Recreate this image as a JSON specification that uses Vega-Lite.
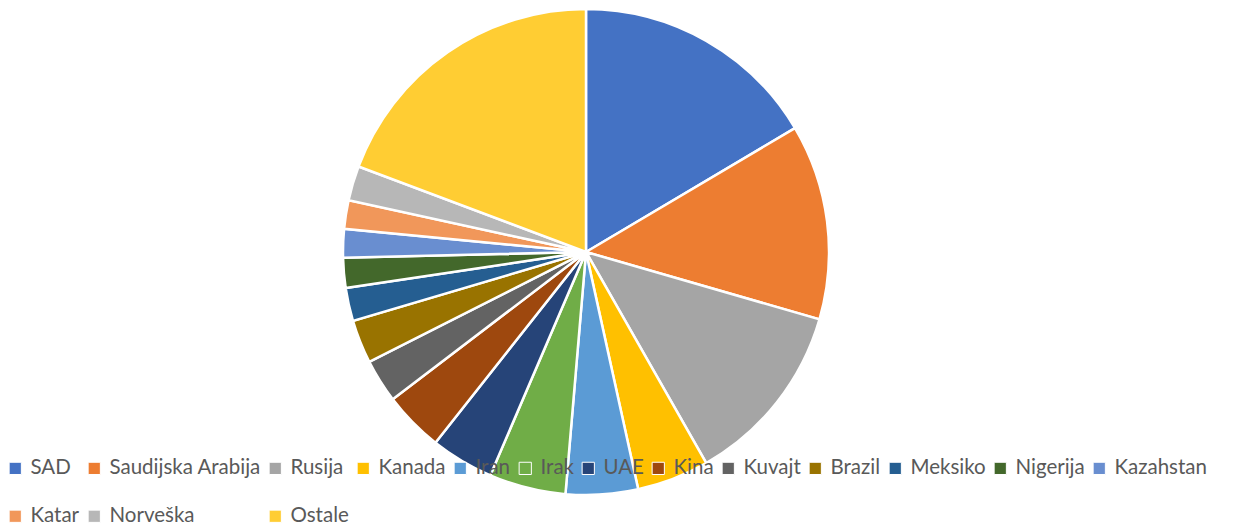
{
  "$schema": "https://vega.github.io/schema/vega-lite/v6.json",
  "autosize": "none",
  "width": 1172,
  "height": 504,
  "padding": {"left": 0, "top": 0, "right": 69, "bottom": 23},
  "background": "white",
  "config": {"view": {"stroke": null}},
  "data": {"values": [
    {"zemlja": "SAD", "udio": 16.5, "red": 1},
    {"zemlja": "Saudijska Arabija", "udio": 13.0, "red": 2},
    {"zemlja": "Rusija", "udio": 12.3, "red": 3},
    {"zemlja": "Kanada", "udio": 4.8, "red": 4},
    {"zemlja": "Iran", "udio": 4.8, "red": 5},
    {"zemlja": "Irak", "udio": 5.1, "red": 6},
    {"zemlja": "UAE", "udio": 4.2, "red": 7},
    {"zemlja": "Kina", "udio": 4.0, "red": 8},
    {"zemlja": "Kuvajt", "udio": 2.9, "red": 9},
    {"zemlja": "Brazil", "udio": 2.9, "red": 10},
    {"zemlja": "Meksiko", "udio": 2.2, "red": 11},
    {"zemlja": "Nigerija", "udio": 2.0, "red": 12},
    {"zemlja": "Kazahstan", "udio": 1.9, "red": 13},
    {"zemlja": "Katar", "udio": 1.9, "red": 14},
    {"zemlja": "Norveška", "udio": 2.3, "red": 15},
    {"zemlja": "Ostale", "udio": 19.3, "red": 16}
  ]},
  "mark": {"type": "arc", "outerRadius": 243, "stroke": "white", "strokeWidth": 2.5},
  "encoding": {
    "theta": {"field": "udio", "type": "quantitative", "stack": true},
    "order": {"field": "red", "type": "quantitative"},
    "color": {
      "field": "zemlja", "type": "nominal",
      "sort": ["SAD", "Saudijska Arabija", "Rusija", "Kanada", "Iran", "Irak", "UAE", "Kina", "Kuvajt", "Brazil", "Meksiko", "Nigerija", "Kazahstan", "Katar", "Norveška", "Ostale"],
      "scale": {
        "domain": ["SAD", "Saudijska Arabija", "Rusija", "Kanada", "Iran", "Irak", "UAE", "Kina", "Kuvajt", "Brazil", "Meksiko", "Nigerija", "Kazahstan", "Katar", "Norveška", "Ostale"],
        "range": ["#4472C4", "#ED7D31", "#A5A5A5", "#FFC000", "#5B9BD5", "#70AD47", "#264478", "#9E480E", "#636363", "#997300", "#255E91", "#43682B", "#698ED0", "#F1975A", "#B7B7B7", "#FFCD33"]
      },
      "legend": {
        "title": null,
        "orient": "none",
        "legendX": 5,
        "legendY": 458,
        "direction": "horizontal",
        "columns": 13,
        "gridAlign": "each",
        "symbolType": "square",
        "symbolSize": 150,
        "symbolStrokeColor": "white",
        "symbolStrokeWidth": 1,
        "symbolOffset": 0,
        "labelFont": "Lato",
        "labelFontSize": 20.5,
        "labelColor": "#595959",
        "labelOffset": 5,
        "columnPadding": 4,
        "rowPadding": 27,
        "labelLimit": 300
      }
    }
  }
}
